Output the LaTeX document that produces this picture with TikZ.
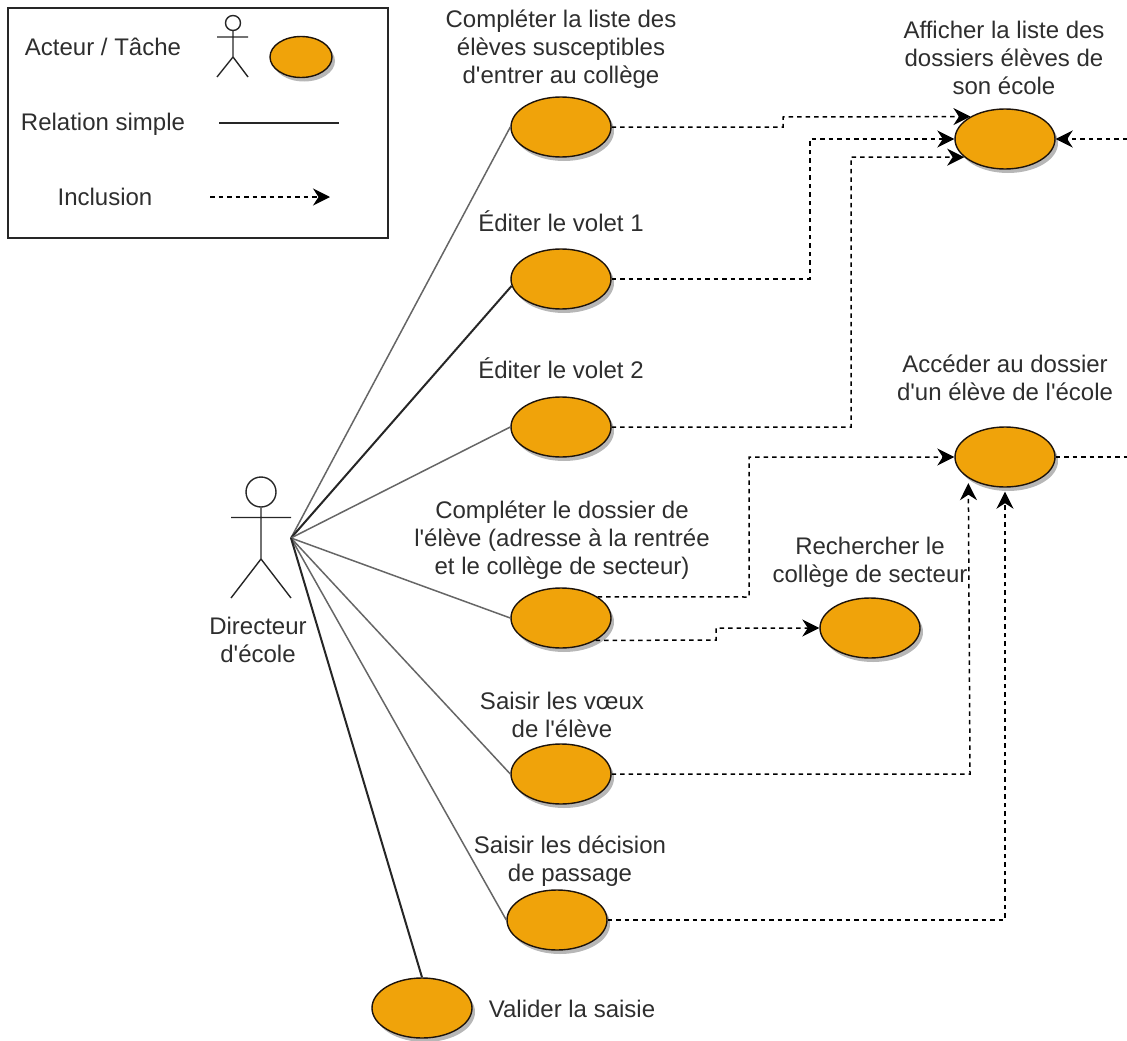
\documentclass[tikz,border=0pt]{standalone}
\usepackage{fontspec}
\newfontfamily\arialf{Liberation Sans}
\usetikzlibrary{arrows.meta,shadows,shapes.geometric}
\definecolor{tache}{HTML}{F0A30A}
\definecolor{txt}{HTML}{2E2E2E}
\tikzset{
  tache/.style={ellipse,draw=black!85!brown,line width=1.4pt,fill=tache,minimum width=100pt,minimum height=60pt,inner sep=0pt,
    drop shadow={shadow xshift=3pt,shadow yshift=-4pt,opacity=.4,fill=black!70}},
  petite/.style={tache,minimum width=62pt,minimum height=41pt},
  lbl/.style={align=center,text=txt,font=\arialf\fontsize{24}{28}\selectfont,inner sep=0pt},
  incl/.style={line width=1.5pt,dash pattern=on 4.5pt off 4pt,-{Stealth[length=17pt,width=17pt,inset=5.5pt]}},
  inclnu/.style={line width=1.5pt,dash pattern=on 4.5pt off 4pt},
  simple/.style={line width=1.5pt,draw=black!60},
  fort/.style={line width=2pt,draw=black!85},
  stick/.style={line width=1.4pt,draw=black!85},
}
\begin{document}
\begin{tikzpicture}[x=1pt,y=-1pt]
\useasboundingbox (0,0) rectangle (1127,1041);
% Legend
\node[draw=black!85,line width=1.6pt,minimum width=380pt,minimum height=230pt,inner sep=0pt,anchor=north west] (legende) at (7,7) {};
\node[lbl] (lacteur) at (103,47) {Acteur / Tâche};
\node[lbl] (lrel) at (103,124) {Relation simple};
\node[lbl] (linc) at (105,197) {Inclusion};
\node[petite] (ltache) at (301,57) {};
\node[circle,stick,minimum size=15pt,inner sep=0pt] (lhead) at (233,23) {};
\coordinate (lhip) at (233,57);
\coordinate (larml) at (217,37);
\coordinate (larmr) at (248,37);
\coordinate (llegl) at (217,77);
\coordinate (llegr) at (248,77);
\draw[stick] (lhead) -- (lhip) -- (llegl) (lhip) -- (llegr) (larml) -- (larmr);
\coordinate (ls1) at (219,123);
\coordinate (ls2) at (339,123);
\draw[line width=1.4pt,draw=black!85] (ls1) -- (ls2);
\coordinate (li1) at (210,197);
\coordinate (li2) at (330,197);
\draw[incl] (li1) -- (li2);
% Actor
\node[circle,stick,minimum size=30pt,inner sep=0pt] (head) at (261,492) {};
\coordinate (hip) at (261,559);
\coordinate (arml) at (231,517.5);
\coordinate (armr) at (291,517.5);
\coordinate (legl) at (231,598);
\coordinate (legr) at (291,598);
\coordinate (hub) at (291,538);
\draw[stick] (head) -- (hip) -- (legl) (hip) -- (legr) (arml) -- (armr);
\node[lbl] (directeur) at (258,640) {Directeur\\d'école};
% Tasks
\node[tache] (t1) at (561,127) {};
\node[tache] (t2) at (561,279) {};
\node[tache] (t3) at (561,427) {};
\node[tache] (t4) at (561,618) {};
\node[tache] (t5) at (561,774) {};
\node[tache] (t6) at (557,920) {};
\node[tache] (t7) at (422,1008) {};
\node[tache] (af) at (1005,139) {};
\node[tache] (ac) at (1005,457) {};
\node[tache] (re) at (870,628) {};
% Labels
\node[lbl] (n1) at (561,49) {Compléter la liste des\\élèves susceptibles\\d'entrer au collège};
\node[lbl] (n2) at (561,221) {Éditer le volet 1};
\node[lbl] (n3) at (561,368) {Éditer le volet 2};
\node[lbl] (n4) at (562,540) {Compléter le dossier de\\l'élève (adresse à la rentrée\\et le collège de secteur)};
\node[lbl] (n5) at (562,715) {Saisir les vœux\\de l'élève};
\node[lbl] (n6) at (570,861) {Saisir les décision\\de passage};
\node[lbl] (n7) at (572,1009) {Valider la saisie};
\node[lbl] (n8) at (1004,58) {Afficher la liste des\\dossiers élèves de\\son école};
\node[lbl] (n9) at (1005,378) {Accéder au dossier\\d'un élève de l'école};
\node[lbl] (n10) at (870,562) {Rechercher le\\collège de secteur};
% Simple relations
\draw[simple] (hub) -- (t1.west);
\draw[fort] (hub) -- (t2.188);
\draw[simple] (hub) -- (t3.west);
\draw[simple] (hub) -- (t4.west);
\draw[simple] (hub) -- (t5.west);
\draw[simple] (hub) -- (t6.west);
\draw[fort] (hub) -- (t7.north);
% Inclusions
\draw[incl] (t1.east) -- (783,127) -- (783,117) -- (af.147);
\draw[incl] (t2.east) -- (810,279) -- (810,139) -- (af.west);
\draw[incl] (t3.east) -- (851,427) -- (851,157) -- (af.204);
\coordinate (afr) at (1127,139);
\draw[incl] (afr) -- (af.east);
\draw[incl] (t4.30.5) -- (749,597) -- (749,457) -- (ac.west);
\draw[incl] (t4.-33) -- (716,640) -- (716,628) -- (re.west);
\draw[incl,shorten >=5pt] (t5.east) -- (970,774) -- (ac.210);
\draw[incl,shorten >=4pt] (t6.east) -- (1005,920) -- (ac.south);
\coordinate (acr) at (1127,457);
\draw[inclnu] (ac.east) -- (acr);
\end{tikzpicture}
\end{document}
